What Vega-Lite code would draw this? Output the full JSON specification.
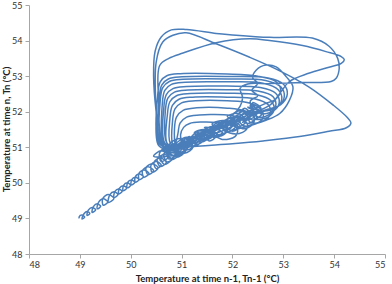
{
"$schema": "https://vega.github.io/schema/vega-lite/v6.json",
"width": 356, "height": 249,
"autosize": "none",
"padding": {"left": 29, "top": 5, "right": 7, "bottom": 30},
"background": "white",
"config": {"view": {"stroke": null}, "font": "Lato"},
"data": {"values": [
{"x":48.99,"y":49.0},
{"x":48.985,"y":49.04},{"x":49.04,"y":49.095},{"x":49.095,"y":49.04},{"x":49.04,"y":48.985},
{"x":49.085,"y":49.14},{"x":49.14,"y":49.195},{"x":49.195,"y":49.14},{"x":49.14,"y":49.085},
{"x":49.17,"y":49.24},{"x":49.24,"y":49.31},{"x":49.31,"y":49.24},{"x":49.24,"y":49.17},
{"x":49.27,"y":49.34},{"x":49.34,"y":49.41},{"x":49.41,"y":49.34},{"x":49.34,"y":49.27},
{"x":49.37,"y":49.46},{"x":49.46,"y":49.55},{"x":49.55,"y":49.46},{"x":49.46,"y":49.37},
{"x":49.45,"y":49.56},{"x":49.56,"y":49.67},{"x":49.67,"y":49.56},{"x":49.56,"y":49.45},
{"x":49.59,"y":49.67},{"x":49.67,"y":49.75},{"x":49.75,"y":49.67},{"x":49.67,"y":49.59},
{"x":49.69,"y":49.76},{"x":49.76,"y":49.83},{"x":49.83,"y":49.76},{"x":49.76,"y":49.69},
{"x":49.78,"y":49.85},{"x":49.85,"y":49.92},{"x":49.92,"y":49.85},{"x":49.85,"y":49.78},
{"x":49.86,"y":49.93},{"x":49.93,"y":50.0},{"x":50.0,"y":49.93},{"x":49.93,"y":49.86},
{"x":49.94,"y":50.01},{"x":50.01,"y":50.08},{"x":50.08,"y":50.01},{"x":50.01,"y":49.94},
{"x":50.02,"y":50.09},{"x":50.09,"y":50.16},{"x":50.16,"y":50.09},{"x":50.09,"y":50.02},
{"x":50.09,"y":50.17},{"x":50.17,"y":50.25},{"x":50.25,"y":50.17},{"x":50.17,"y":50.09},
{"x":50.16,"y":50.26},{"x":50.26,"y":50.36},{"x":50.36,"y":50.26},{"x":50.26,"y":50.16},
{"x":50.23,"y":50.34},{"x":50.34,"y":50.45},{"x":50.45,"y":50.34},{"x":50.34,"y":50.23},
{"x":50.3,"y":50.42},{"x":50.42,"y":50.54},{"x":50.54,"y":50.42},{"x":50.42,"y":50.3},
{"x":50.4,"y":50.5},{"x":50.5,"y":50.6},{"x":50.6,"y":50.5},{"x":50.5,"y":50.4},
{"x":50.46,"y":50.58},{"x":50.58,"y":50.7},{"x":50.7,"y":50.58},{"x":50.58,"y":50.46},
{"x":50.52,"y":50.66},{"x":50.66,"y":50.8},{"x":50.8,"y":50.66},{"x":50.66,"y":50.52},
{"x":50.59,"y":50.72},{"x":50.72,"y":50.85},{"x":50.85,"y":50.72},{"x":50.72,"y":50.59},
{"x":50.65,"y":50.8},{"x":50.8,"y":50.95},{"x":50.95,"y":50.8},{"x":50.8,"y":50.65},
{"x":50.75,"y":50.9},{"x":50.9,"y":51.05},{"x":51.05,"y":50.9},{"x":50.9,"y":50.75},
{"x":51.0,"y":51.1},{"x":50.98,"y":51.35},{"x":51.04,"y":51.56},{"x":51.16,"y":51.67},{"x":51.4,"y":51.71},{"x":51.7,"y":51.7},{"x":51.95,"y":51.65},{"x":52.1,"y":51.5},{"x":52.05,"y":51.3},{"x":51.8,"y":51.22},{"x":51.55,"y":51.42},{"x":51.67,"y":51.3},{"x":51.55,"y":51.18},{"x":51.43,"y":51.3},{"x":51.25,"y":51.27},{"x":51.37,"y":51.15},{"x":51.25,"y":51.03},{"x":51.13,"y":51.15},{"x":50.98,"y":51.12},{"x":51.12,"y":50.98},{"x":50.98,"y":50.84},{"x":50.84,"y":50.98},
{"x":50.9,"y":51.2},{"x":50.93,"y":51.4},{"x":50.97,"y":51.68},{"x":51.1,"y":51.85},{"x":51.35,"y":51.91},{"x":51.6,"y":51.92},{"x":51.95,"y":51.9},{"x":52.2,"y":51.8},{"x":52.3,"y":51.6},{"x":52.2,"y":51.42},{"x":51.95,"y":51.4},{"x":51.75,"y":51.59},{"x":51.89,"y":51.45},{"x":51.75,"y":51.31},{"x":51.61,"y":51.45},{"x":51.4,"y":51.41},{"x":51.53,"y":51.28},{"x":51.4,"y":51.15},{"x":51.27,"y":51.28},{"x":51.1,"y":51.22},{"x":51.22,"y":51.1},{"x":51.1,"y":50.98},{"x":50.98,"y":51.1},{"x":50.8,"y":51.0},{"x":50.75,"y":50.85},{"x":50.85,"y":50.75},{"x":50.95,"y":50.85},
{"x":50.88,"y":51.05},{"x":50.86,"y":51.5},{"x":50.9,"y":51.85},{"x":51.03,"y":52.04},{"x":51.3,"y":52.11},{"x":51.9,"y":52.1},{"x":52.25,"y":52.02},{"x":52.42,"y":51.85},{"x":52.4,"y":51.65},{"x":52.2,"y":51.52},{"x":52.0,"y":51.75},{"x":52.15,"y":51.6},{"x":52.0,"y":51.45},{"x":51.85,"y":51.6},{"x":51.65,"y":51.57},{"x":51.8,"y":51.42},{"x":51.65,"y":51.27},{"x":51.5,"y":51.42},{"x":51.3,"y":51.36},{"x":51.44,"y":51.22},{"x":51.3,"y":51.08},{"x":51.16,"y":51.22},{"x":51.0,"y":51.05},{"x":50.9,"y":50.92},
{"x":50.82,"y":51.1},{"x":50.82,"y":51.7},{"x":50.87,"y":52.08},{"x":51.0,"y":52.25},{"x":51.27,"y":52.31},{"x":51.9,"y":52.31},{"x":52.35,"y":52.24},{"x":52.57,"y":52.05},{"x":52.6,"y":51.82},{"x":52.45,"y":51.65},{"x":52.2,"y":51.62},{"x":52.1,"y":51.88},{"x":52.26,"y":51.72},{"x":52.1,"y":51.56},{"x":51.94,"y":51.72},{"x":51.75,"y":51.66},{"x":51.91,"y":51.5},{"x":51.75,"y":51.34},{"x":51.59,"y":51.5},{"x":51.4,"y":51.45},{"x":51.55,"y":51.3},{"x":51.4,"y":51.15},{"x":51.25,"y":51.3},{"x":51.05,"y":51.1},{"x":50.95,"y":50.95},
{"x":50.78,"y":51.1},{"x":50.77,"y":51.8},{"x":50.82,"y":52.18},{"x":50.95,"y":52.35},{"x":51.22,"y":52.41},{"x":51.9,"y":52.41},{"x":52.45,"y":52.36},{"x":52.7,"y":52.2},{"x":52.75,"y":51.95},{"x":52.62,"y":51.75},{"x":52.35,"y":51.7},{"x":52.3,"y":52.03},{"x":52.48,"y":51.85},{"x":52.3,"y":51.67},{"x":52.12,"y":51.85},{"x":51.9,"y":51.77},{"x":52.07,"y":51.6},{"x":51.9,"y":51.43},{"x":51.73,"y":51.6},{"x":51.5,"y":51.53},{"x":51.65,"y":51.38},{"x":51.5,"y":51.23},{"x":51.35,"y":51.38},{"x":51.1,"y":51.12},{"x":50.92,"y":51.0},
{"x":50.72,"y":51.1},{"x":50.72,"y":51.9},{"x":50.77,"y":52.28},{"x":50.9,"y":52.45},{"x":51.17,"y":52.51},{"x":51.9,"y":52.52},{"x":52.5,"y":52.47},{"x":52.75,"y":52.32},{"x":52.82,"y":52.05},{"x":52.7,"y":51.85},{"x":52.45,"y":51.8},{"x":52.4,"y":52.13},{"x":52.58,"y":51.95},{"x":52.4,"y":51.77},{"x":52.22,"y":51.95},{"x":52.0,"y":51.6},{"x":51.5,"y":51.3},{"x":51.0,"y":51.05},{"x":50.85,"y":50.95},
{"x":50.7,"y":51.15},{"x":50.68,"y":52.0},{"x":50.73,"y":52.38},{"x":50.86,"y":52.55},{"x":51.13,"y":52.61},{"x":51.9,"y":52.62},{"x":52.5,"y":52.58},{"x":52.8,"y":52.42},{"x":52.85,"y":52.15},{"x":52.72,"y":51.92},{"x":52.5,"y":51.85},{"x":52.35,"y":52.19},{"x":52.49,"y":52.05},{"x":52.35,"y":51.91},{"x":52.21,"y":52.05},{"x":52.0,"y":51.91},{"x":52.16,"y":51.75},{"x":52.0,"y":51.59},{"x":51.84,"y":51.75},{"x":51.6,"y":51.65},{"x":51.75,"y":51.5},{"x":51.6,"y":51.35},{"x":51.45,"y":51.5},{"x":51.25,"y":51.4},{"x":51.4,"y":51.25},{"x":51.25,"y":51.1},{"x":51.1,"y":51.25},{"x":50.9,"y":51.0},
{"x":51.2,"y":51.1},{"x":51.36,"y":51.35},{"x":51.5,"y":51.49},{"x":51.64,"y":51.35},{"x":51.5,"y":51.21},{"x":51.7,"y":51.6},{"x":51.85,"y":51.75},{"x":52.0,"y":51.6},{"x":51.85,"y":51.45},{"x":52.05,"y":51.85},{"x":52.2,"y":52.0},{"x":52.35,"y":51.85},{"x":52.2,"y":51.7},{"x":52.4,"y":52.0},{"x":52.35,"y":52.3},{"x":52.5,"y":52.45},{"x":52.38,"y":52.6},{"x":52.5,"y":52.8},{"x":52.4,"y":52.95},{"x":52.47,"y":53.17},{"x":52.66,"y":53.31},{"x":52.86,"y":53.26},{"x":53.06,"y":52.98},{"x":53.19,"y":52.7},{"x":53.12,"y":52.32},{"x":52.93,"y":51.95},{"x":52.66,"y":51.76},{"x":52.3,"y":51.6},{"x":51.8,"y":51.38},{"x":51.3,"y":51.15},{"x":51.0,"y":51.0},
{"x":50.68,"y":51.1},{"x":50.65,"y":52.1},{"x":50.7,"y":52.48},{"x":50.83,"y":52.65},{"x":51.1,"y":52.71},{"x":51.9,"y":52.72},{"x":52.55,"y":52.68},{"x":52.85,"y":52.52},{"x":52.92,"y":52.25},{"x":52.8,"y":52.02},{"x":52.55,"y":51.95},{"x":52.4,"y":52.26},{"x":52.56,"y":52.1},{"x":52.4,"y":51.94},{"x":52.24,"y":52.1},{"x":52.0,"y":51.75},{"x":51.5,"y":51.42},{"x":51.1,"y":51.15},{"x":50.85,"y":51.0},
{"x":50.65,"y":51.1},{"x":50.62,"y":52.2},{"x":50.67,"y":52.6},{"x":50.8,"y":52.77},{"x":51.07,"y":52.83},{"x":51.9,"y":52.84},{"x":52.6,"y":52.8},{"x":52.9,"y":52.62},{"x":52.97,"y":52.35},{"x":52.85,"y":52.1},{"x":52.55,"y":51.98},{"x":52.1,"y":51.72},{"x":51.6,"y":51.45},{"x":51.3,"y":51.45},{"x":51.45,"y":51.3},{"x":51.3,"y":51.15},{"x":51.15,"y":51.3},{"x":50.95,"y":51.05},{"x":50.8,"y":50.92},
{"x":50.55,"y":51.05},{"x":50.5,"y":52.0},{"x":50.5,"y":53.39},{"x":50.63,"y":53.96},{"x":50.83,"y":54.15},{"x":51.09,"y":54.22},{"x":51.68,"y":53.91},{"x":52.34,"y":53.53},{"x":52.93,"y":53.15},{"x":53.5,"y":52.7},{"x":53.97,"y":52.2},{"x":54.25,"y":51.85},{"x":54.33,"y":51.68},{"x":54.24,"y":51.55},{"x":53.9,"y":51.45},{"x":53.32,"y":51.3},{"x":52.6,"y":51.18},{"x":52.0,"y":51.1},{"x":51.09,"y":51.0},{"x":50.8,"y":50.9},
{"x":50.6,"y":51.1},{"x":50.58,"y":52.3},{"x":50.63,"y":52.68},{"x":50.76,"y":52.85},{"x":51.03,"y":52.91},{"x":51.9,"y":52.92},{"x":52.65,"y":52.88},{"x":52.95,"y":52.7},{"x":53.02,"y":52.42},{"x":52.9,"y":52.15},{"x":52.6,"y":52.02},{"x":52.3,"y":52.13},{"x":52.48,"y":51.95},{"x":52.3,"y":51.77},{"x":52.12,"y":51.95},{"x":51.9,"y":51.87},{"x":52.07,"y":51.7},{"x":51.9,"y":51.53},{"x":51.73,"y":51.7},{"x":51.4,"y":51.35},{"x":51.0,"y":51.08},{"x":50.78,"y":50.9},
{"x":50.62,"y":51.1},{"x":50.55,"y":52.3},{"x":50.57,"y":53.3},{"x":50.75,"y":53.5},{"x":51.03,"y":53.65},{"x":51.68,"y":53.94},{"x":52.34,"y":54.05},{"x":52.73,"y":54.0},{"x":53.38,"y":53.86},{"x":53.84,"y":53.69},{"x":54.14,"y":53.55},{"x":54.2,"y":53.46},{"x":54.14,"y":53.36},{"x":53.9,"y":53.25},{"x":53.5,"y":53.08},{"x":53.12,"y":52.85},{"x":52.95,"y":52.55},{"x":52.75,"y":52.2},{"x":52.3,"y":51.9},{"x":51.7,"y":51.5},{"x":51.2,"y":51.15},{"x":50.9,"y":50.95},
{"x":50.58,"y":51.1},{"x":50.56,"y":52.35},{"x":50.61,"y":52.75},{"x":50.74,"y":52.92},{"x":51.01,"y":52.98},{"x":51.9,"y":52.99},{"x":52.7,"y":52.95},{"x":53.0,"y":52.78},{"x":53.08,"y":52.5},{"x":52.95,"y":52.2},{"x":52.65,"y":52.05},{"x":52.2,"y":51.85},{"x":51.7,"y":51.55},{"x":51.45,"y":51.56},{"x":51.61,"y":51.4},{"x":51.45,"y":51.24},{"x":51.29,"y":51.4},{"x":51.1,"y":51.15},{"x":50.9,"y":51.0},
{"x":50.6,"y":51.05},{"x":50.5,"y":52.0},{"x":50.45,"y":53.0},{"x":50.48,"y":53.7},{"x":50.6,"y":54.1},{"x":50.8,"y":54.3},{"x":51.1,"y":54.31},{"x":51.68,"y":54.2},{"x":52.0,"y":54.16},{"x":52.73,"y":54.09},{"x":53.57,"y":54.07},{"x":53.9,"y":53.84},{"x":54.07,"y":53.5},{"x":54.1,"y":53.22},{"x":54.04,"y":52.94},{"x":53.94,"y":52.85},{"x":53.38,"y":52.82},{"x":52.73,"y":52.79},{"x":52.3,"y":52.78},{"x":52.15,"y":52.65},{"x":52.2,"y":52.4},{"x":52.15,"y":52.15},{"x":52.0,"y":51.9},{"x":51.6,"y":51.55},{"x":51.2,"y":51.2},{"x":50.9,"y":51.0},
{"x":50.56,"y":51.1},{"x":50.53,"y":52.45},{"x":50.58,"y":52.84},{"x":50.71,"y":53.01},{"x":50.98,"y":53.07},{"x":51.9,"y":53.06},{"x":52.5,"y":53.0},{"x":52.85,"y":52.85},{"x":52.95,"y":52.6},{"x":52.85,"y":52.35},{"x":52.6,"y":52.2},{"x":52.1,"y":51.85},{"x":51.5,"y":51.45},{"x":51.0,"y":51.1},{"x":50.8,"y":50.95},
{"x":50.75,"y":51.05},{"x":50.95,"y":51.25},{"x":51.15,"y":51.05},{"x":50.95,"y":50.85},{"x":50.8,"y":50.95},{"x":51.1,"y":51.28},{"x":51.28,"y":51.1},{"x":51.1,"y":50.92},{"x":50.92,"y":51.0},{"x":50.7,"y":50.9},{"x":50.85,"y":51.1},{"x":51.0,"y":50.95},{"x":50.85,"y":50.78},
{"x":50.45,"y":50.75},{"x":50.6,"y":50.9},{"x":50.75,"y":50.75},{"x":50.6,"y":50.6},
{"x":50.57,"y":50.85},{"x":50.75,"y":51.03},{"x":50.93,"y":50.85},{"x":50.75,"y":50.67},
{"x":50.72,"y":50.9},{"x":50.9,"y":51.08},{"x":51.08,"y":50.9},{"x":50.9,"y":50.72},
{"x":50.88,"y":51.0},{"x":51.05,"y":51.17},{"x":51.22,"y":51.0},{"x":51.05,"y":50.83},
{"x":50.62,"y":50.95},{"x":50.78,"y":51.1}
]},
"mark": {"type": "line", "interpolate": "catmull-rom", "color": "#4a7ebb", "strokeWidth": 1.5, "clip": false},
"encoding": {
"x": {"field": "x", "type": "quantitative",
 "scale": {"domain": [48, 55], "nice": false, "zero": false},
 "axis": {"values": [48,49,50,51,52,53,54,55], "format": "d", "grid": false,
  "domainColor": "#a6a6a6", "tickColor": "#a6a6a6", "tickSize": 4,
  "labelFont": "Lato", "labelFontSize": 9, "labelColor": "#333333", "labelPadding": 2,
  "title": "Temperature at time n-1, Tn-1 (°C)", "titleFont": "Lato", "titleFontSize": 9.5, "titleFontWeight": "bold", "titleColor": "#222222",
  "titleY": 27, "titleBaseline": "alphabetic"}},
"y": {"field": "y", "type": "quantitative",
 "scale": {"domain": [48, 55], "nice": false, "zero": false},
 "axis": {"values": [48,49,50,51,52,53,54,55], "format": "d", "grid": false,
  "domainColor": "#a6a6a6", "tickColor": "#a6a6a6", "tickSize": 4,
  "labelFont": "Lato", "labelFontSize": 9, "labelColor": "#333333", "labelPadding": 3,
  "title": "Temperature at time n, Tn (°C)", "titleFont": "Lato", "titleFontSize": 9.5, "titleFontWeight": "bold", "titleColor": "#222222",
  "titleAngle": -90, "titleX": -23, "titleY": 124, "titleAlign": "center", "titleBaseline": "middle"}},
"order": {"value": null}
}
}
